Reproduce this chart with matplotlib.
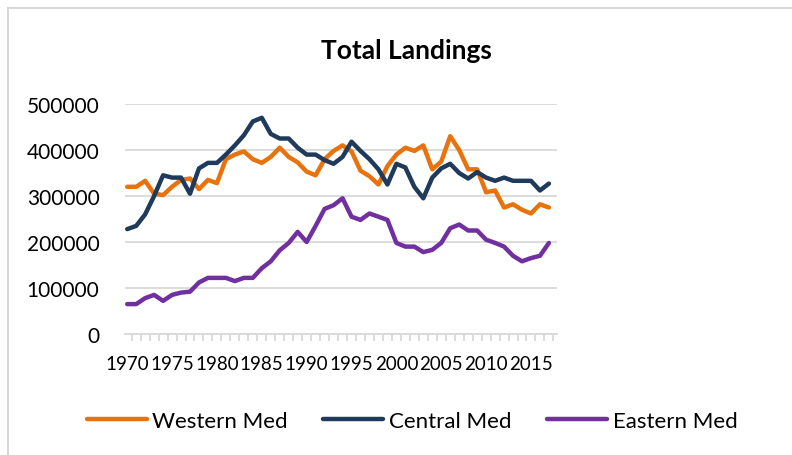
import numpy as np
import matplotlib
matplotlib.use("Agg")
import matplotlib.pyplot as plt
from matplotlib.ticker import FixedLocator

plt.rcParams['font.family'] = ['Lato', 'DejaVu Sans']

# years and landings per area
years = list(range(1970, 2018))

western_med = [320000, 320000, 333000, 305000, 302000, 320000, 335000, 338000, 315000, 335000,
               328000, 380000, 390000, 397000, 380000, 372000, 385000, 405000, 385000, 373000,
               353000, 345000, 380000, 398000, 410000, 397000, 355000, 343000, 325000, 365000,
               390000, 405000, 398000, 410000, 358000, 375000, 430000, 400000, 358000, 358000,
               308000, 312000, 275000, 282000, 270000, 262000, 282000, 275000]

central_med = [228000, 235000, 260000, 300000, 345000, 340000, 340000, 305000, 360000, 372000,
               372000, 390000, 410000, 432000, 462000, 470000, 435000, 425000, 425000, 405000,
               390000, 390000, 378000, 370000, 385000, 418000, 398000, 380000, 358000, 325000,
               370000, 362000, 320000, 295000, 340000, 360000, 370000, 350000, 338000, 352000,
               340000, 333000, 340000, 333000, 333000, 333000, 312000, 327000]

eastern_med = [65000, 65000, 78000, 85000, 72000, 85000, 90000, 92000, 112000, 122000,
               122000, 122000, 115000, 122000, 122000, 143000, 158000, 182000, 198000, 222000,
               200000, 235000, 272000, 280000, 295000, 255000, 248000, 262000, 255000, 248000,
               198000, 190000, 190000, 178000, 183000, 198000, 230000, 238000, 225000, 225000,
               205000, 198000, 190000, 170000, 158000, 165000, 170000, 198000]

series_names = ['Western Med', 'Central Med', 'Eastern Med']
colors = ['#e8720c', '#1f3a5a', '#7030a0']

fig = plt.figure(figsize=(7.92, 4.56), dpi=100)
ax = fig.add_axes([124.5 / 792, 1 - 335 / 456, (557 - 124.5) / 792, (335 - 105) / 456])

for vals, name, c in zip([western_med, central_med, eastern_med], series_names, colors):
    ax.plot(years, vals, color=c, lw=3.2, label=name, solid_capstyle='round',
            solid_joinstyle='round', zorder=3)

ax.set_xlim(1969.7, 2017.9)
ax.set_ylim(0, 500000)
ax.set_yticks(np.arange(0, 500001, 100000))
ax.set_yticklabels([str(v) for v in range(0, 500001, 100000)])
ax.grid(axis='y', color='#d9d9d9', lw=1.3, zorder=0)

ax.xaxis.set_major_locator(FixedLocator(list(range(1970, 2016, 5))))
ax.xaxis.set_minor_locator(FixedLocator([y + 0.5 for y in range(1969, 2018)]))
ax.tick_params(axis='x', which='major', length=0, labelsize=13.5, pad=15)
ax.tick_params(axis='x', which='minor', length=5, color='#d9d9d9', width=1.3)
ax.tick_params(axis='y', length=0, labelsize=15, pad=18)

for s in ['top', 'right', 'left']:
    ax.spines[s].set_visible(False)
ax.spines['bottom'].set_color('#d9d9d9')
ax.spines['bottom'].set_linewidth(1.3)

fig.text(406 / 792, 1 - 51 / 456, 'Total Landings', ha='center', va='center',
         fontsize=19, fontweight='bold')

fig.legend(loc='center', bbox_to_anchor=(412 / 792, 1 - 422 / 456), ncol=3, frameon=False,
           fontsize=16, handlelength=2.7, handletextpad=0.25, columnspacing=1.6)

# thin chart frame
fig.add_artist(plt.Line2D([8 / 792, 8 / 792], [0, 1 - 9 / 456], color='#d0d0d0', lw=1.2))
fig.add_artist(plt.Line2D([8 / 792, 1], [1 - 9 / 456, 1 - 9 / 456], color='#d0d0d0', lw=1.2))

fig.savefig('out.png', dpi=100)
